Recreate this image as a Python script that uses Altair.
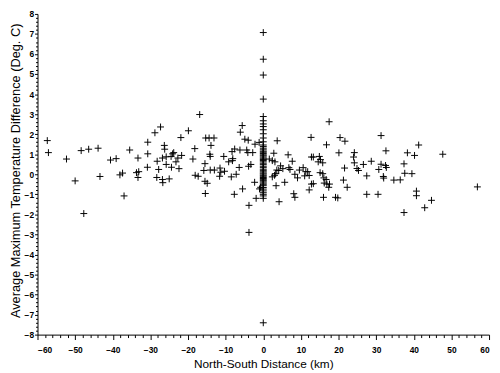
import altair as alt
import pandas as pd

# North-South distance (km) of each station pair
distance_km = [
    -57.4, -57.1, -52.3, -48.4, -46.4, -43.9, -50.0, -47.7, -43.4, -40.6,
    -39.1, -38.1, -37.4, -37.0, -35.5, -33.3, -33.7, -33.1, -33.3, -30.7,
    -30.7, -30.8, -16.9, -27.3, -28.8, -19.9, -21.9, -26.3, -26.2, -18.2,
    -15.3, -14.4, -13.1, -13.9, -14.2, -14.1, -5.6, -6.1, -4.9, -4.0,
    -2.2, -1.1, -7.6, -8.3, -6.2, -4.4, -4.1, -2.8, -23.8, -24.1,
    -22.7, -21.7, -24.5, -25.8, -26.8, -28.2, -25.8, -23.2, -24.4, -22.4,
    -27.8, -18.7, -10.5, -9.2, -8.2, -8.1, -6.4, -15.5, -15.8, -14.1,
    -13.0, -11.5, -11.3, -10.3, -11.6, -8.5, -7.2, -3.9, -3.3, -18.1,
    -17.3, -28.3, -26.8, -26.7, -25.0, -15.5, -14.9, -2.3, -15.4, -7.7,
    -5.5, -3.8, -1.9, -1.0, -3.8,
    3.7, 17.5, 12.7, 16.8, 20.4, 21.7, 20.1, 24.2, 24.0, 26.6,
    24.2, 24.9, 25.3, 21.6, 27.5, 21.3, 22.3, 27.5, 6.6, 7.7,
    2.8, 1.6, 2.4, 3.1, 4.6, 5.2, 4.1, 3.6, 3.3, 2.4,
    3.0, 6.8, 7.1, 9.6, 10.6, 8.4, 9.1, 11.3, 11.8, 12.2,
    11.0, 12.8, 13.3, 14.9, 15.2, 14.6, 15.8, 15.1, 15.8, 16.1,
    16.7, 16.9, 17.6, 17.4, 16.2, 5.7, 3.4, 12.8, 13.3, 12.2,
    8.1, 8.4, 4.2, 16.0, 19.2, 19.8, -0.7,
    31.3, 41.3, 32.6, 38.3, 40.2, 47.7, 28.7, 31.3, 32.5, 32.7,
    30.7, 37.4, 37.6, 39.5, 31.9, 32.0, 34.7, 36.4, 30.5, 40.7,
    40.7, 44.7, 42.9, 37.4, 56.9,
    0, 0, 0, 0, 0, 0, 0, 0, 0, 0, 0, 0, 0, 0,
    0, 0, 0, 0, 0, 0, 0, 0, 0, 0, 0, 0, 0, 0, 0, 0,
    0, 0, 0, 0, 0, 0, 0, 0, 0, 0, 0, 0, 0, 0, 0, 0,
    0, 0, 0, 0, 0, 0, 0,
]

# Average maximum temperature difference (deg C)
temp_diff = [
    1.68, 1.08, 0.76, 1.18, 1.25, 1.30, -0.33, -1.96, -0.11, 0.71,
    0.78, -0.03, 0.06, -1.08, 1.21, 0.81, 0.08, 0.13, -0.16, 1.60,
    1.02, 0.35, 2.98, 2.36, 2.07, 2.17, 1.83, 1.44, 1.25, 1.28,
    1.81, 1.81, 1.81, 1.44, 1.00, 0.89, 2.43, 2.10, 1.75, 1.70,
    1.50, 1.59, 1.26, 1.13, 1.21, 1.21, 1.08, 1.08, 1.08, 1.02,
    0.81, 0.94, 0.89, 0.87, 0.81, 0.65, 0.49, 0.62, 0.35, 0.28,
    0.24, 0.76, 0.89, 0.62, 0.68, 0.78, 0.34, 0.53, 0.19, 0.21,
    0.21, 0.31, 0.10, 0.15, -0.10, -0.13, 0.00, 0.40, 0.49, -0.05,
    -0.10, -0.16, -0.26, -0.42, -0.23, -0.35, -0.45, -0.40, -0.96, -1.00,
    -0.73, -1.55, -1.20, -0.73, -2.90,
    1.67, 2.62, 1.84, 1.47, 1.83, 1.65, 1.07, 1.08, 0.86, 0.49,
    0.57, 0.29, 0.19, 0.31, -0.08, -0.29, -0.65, -1.00, 0.97, 0.65,
    1.05, 0.76, 0.68, 0.62, 0.42, 0.28, 0.19, 0.21, 0.03, -0.13,
    -0.05, 0.33, 0.24, 0.21, 0.33, 0.00, -0.18, 0.13, 0.13, -0.06,
    -0.08, 0.86, 0.86, 0.89, 0.73, 0.62, 0.57, 0.08, 0.03, -0.18,
    -0.26, -0.49, -0.49, -0.65, -0.44, -0.40, -0.57, -0.49, -0.47, -0.78,
    -0.97, -1.15, -1.37, -1.15, -1.15, -1.18, -0.65,
    1.93, 1.46, 1.17, 1.07, 0.94, 1.00, 0.65, 0.50, 0.44, 0.34,
    0.24, 0.52, 0.05, 0.03, -0.11, -0.19, -0.29, -0.28, -1.00, -0.84,
    -1.07, -1.30, -1.67, -1.91, -0.63,
    7.07, 5.74, 4.95, 3.75, 2.88, 2.67, 2.51, 2.38, 2.22, 2.02, 1.81, 1.62, 1.46, -7.41,
    1.38, 1.30, 1.22, 1.15, 1.10, 1.04, 0.97, 0.92, 0.86, 0.80, 0.74, 0.69, 0.62, 0.55, 0.48, 0.40,
    0.33, 0.25, 0.18, 0.12, 0.06, 0.01, -0.05, -0.10, -0.16, -0.21, -0.27, -0.32, -0.38, -0.44, -0.50, -0.57,
    -0.66, -0.74, -0.83, -0.92, -1.00, -1.08, -1.20,
]

x_major = [-60, -50, -40, -30, -20, -10, 0, 10, 20, 30, 40, 50, 60]
x_minor = [v for v in range(-60, 61, 2) if v % 10 != 0]
y_major = [-8, -7, -6, -5, -4, -3, -2, -1, 0, 1, 2, 3, 4, 5, 6, 7, 8]
y_minor = [round(-8 + 0.2 * i, 1) for i in range(81) if i % 5 != 0]

df = pd.DataFrame({"dist": distance_km, "diff": temp_diff})

FONT = "Liberation Sans"
cross = "M-1,0H1M0,-1V1"

xs = alt.Scale(domain=[-60, 60], nice=False, zero=False)
ys = alt.Scale(domain=[-8, 8], nice=False, zero=False)

points = alt.Chart(df).mark_point(
    shape=cross, filled=False, stroke="black", strokeWidth=1, size=49, opacity=1
).encode(
    x=alt.X("dist:Q", scale=xs, axis=alt.Axis(
        orient="bottom", values=x_major, format="d", grid=False,
        domainColor="black", tickColor="black", tickSize=5, labelPadding=6,
        labelFont=FONT, labelFontSize=8.5, labelFontWeight="bold", labelColor="black",
        title="North-South Distance (km)", titleFont=FONT, titleFontSize=12,
        titleFontWeight="normal", titleColor="black", titleBaseline="alphabetic",
        titleY=33,
    )),
    y=alt.Y("diff:Q", scale=ys, axis=alt.Axis(
        orient="left", values=y_major, format="d", grid=False,
        domainColor="black", tickColor="black", tickSize=3, labelPadding=1,
        labelFont=FONT, labelFontSize=8.5, labelFontWeight="bold", labelColor="black",
        title="Average Maximum Temperature Difference (Deg. C)", titleFont=FONT,
        titleFontSize=13, titleFontWeight="normal", titleColor="black",
        titleX=-22, titleY=159, titleBaseline="middle",
    )),
)

minor = alt.Chart(df).mark_point(opacity=0).encode(
    x=alt.X("dist:Q", scale=xs, axis=alt.Axis(
        orient="bottom", values=x_minor, labels=False, domain=False, grid=False,
        tickColor="black", tickSize=3, title="",
    )),
    y=alt.Y("diff:Q", scale=ys, axis=alt.Axis(
        orient="left", values=y_minor, labels=False, domain=False, grid=False,
        tickColor="black", tickSize=2, title="",
    )),
)

chart = alt.layer(points, minor).resolve_scale(
    x="independent", y="independent"
).properties(
    width=459, height=326,
    autosize=alt.AutoSizeParams(type="none"),
    padding={"left": 30, "top": 3, "right": 3, "bottom": 36},
).configure_view(stroke=None)

chart.save("out.html", embed_options={"renderer": "svg", "actions": False})
